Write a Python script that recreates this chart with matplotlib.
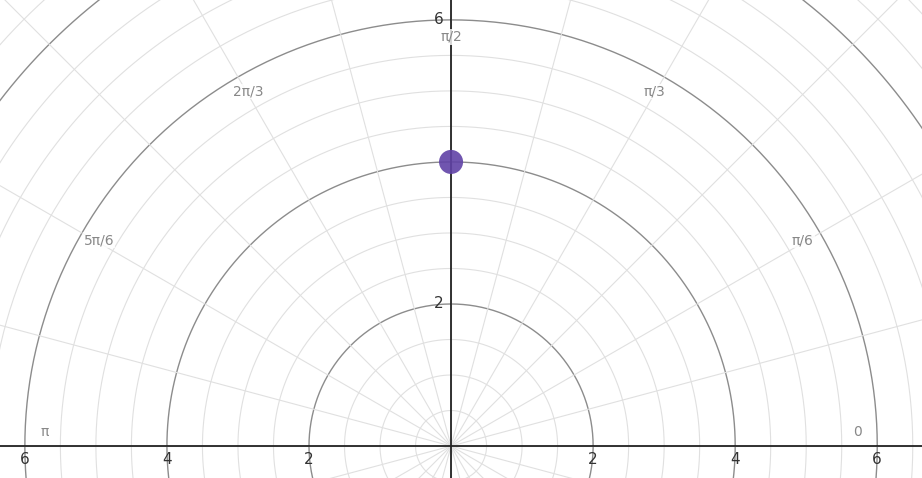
import numpy as np
import matplotlib
matplotlib.use("Agg")
import matplotlib.pyplot as plt

xlim = (-6.35, 6.63)
ylim = (-0.45, 6.28)
major_r = [2, 4, 6, 8]
minor_step = 0.5
ray_step_deg = 15
angle_labels = ["0", "π/6", "π/3", "π/2", "2π/3", "5π/6", "π"]
angle_vals = [0, np.pi/6, np.pi/3, np.pi/2, 2*np.pi/3, 5*np.pi/6, np.pi]
xticks = [-6, -4, -2, 2, 4, 6]
xtick_labels = ["6", "4", "2", "2", "4", "6"]
yticks = [2, 6]
point_x = [0]
point_y = [4]

fig = plt.figure(figsize=(9.22, 4.78), dpi=100)
ax = fig.add_axes([0, 0, 1, 1])
ax.set_xlim(*xlim); ax.set_ylim(*ylim)
ax.axis("off")

t = np.linspace(0, 2*np.pi, 720)
for r in np.arange(minor_step, 9.01, minor_step):
    major = any(abs(r - m) < 1e-9 for m in major_r)
    ax.plot(r*np.cos(t), r*np.sin(t), color="#8c8c8c" if major else "#e0e0e0",
            lw=1.0 if major else 0.8, zorder=1)
for a in np.arange(0, 360, ray_step_deg):
    th = np.radians(a)
    ax.plot([0, 12*np.cos(th)], [0, 12*np.sin(th)], color="#e0e0e0", lw=0.8, zorder=1)

ax.axhline(0, color="#222222", lw=1.3, zorder=3)
ax.axvline(0, color="#222222", lw=1.3, zorder=3)

for v, lab in zip(xticks, xtick_labels):
    ax.text(v, -0.08, lab, ha="center", va="top", fontsize=11, color="#333333", zorder=4)
for v in yticks:
    ax.text(-0.1, v, str(v), ha="right", va="center", fontsize=11, color="#333333", zorder=4)

R = 5.72
for lab, a in zip(angle_labels, angle_vals):
    dy = 0.2 if lab in ("0", "π") else 0.04
    ax.text(R*np.cos(a), R*np.sin(a) + dy, lab, ha="center", va="center",
            fontsize=10, color="#888888", zorder=4,
            bbox=dict(facecolor="white", edgecolor="none", pad=0.5, alpha=0.8))

ax.scatter(point_x, point_y, s=300, color="#6042a6", zorder=5, edgecolors="none", alpha=0.9)

fig.savefig("out.png", dpi=100)
